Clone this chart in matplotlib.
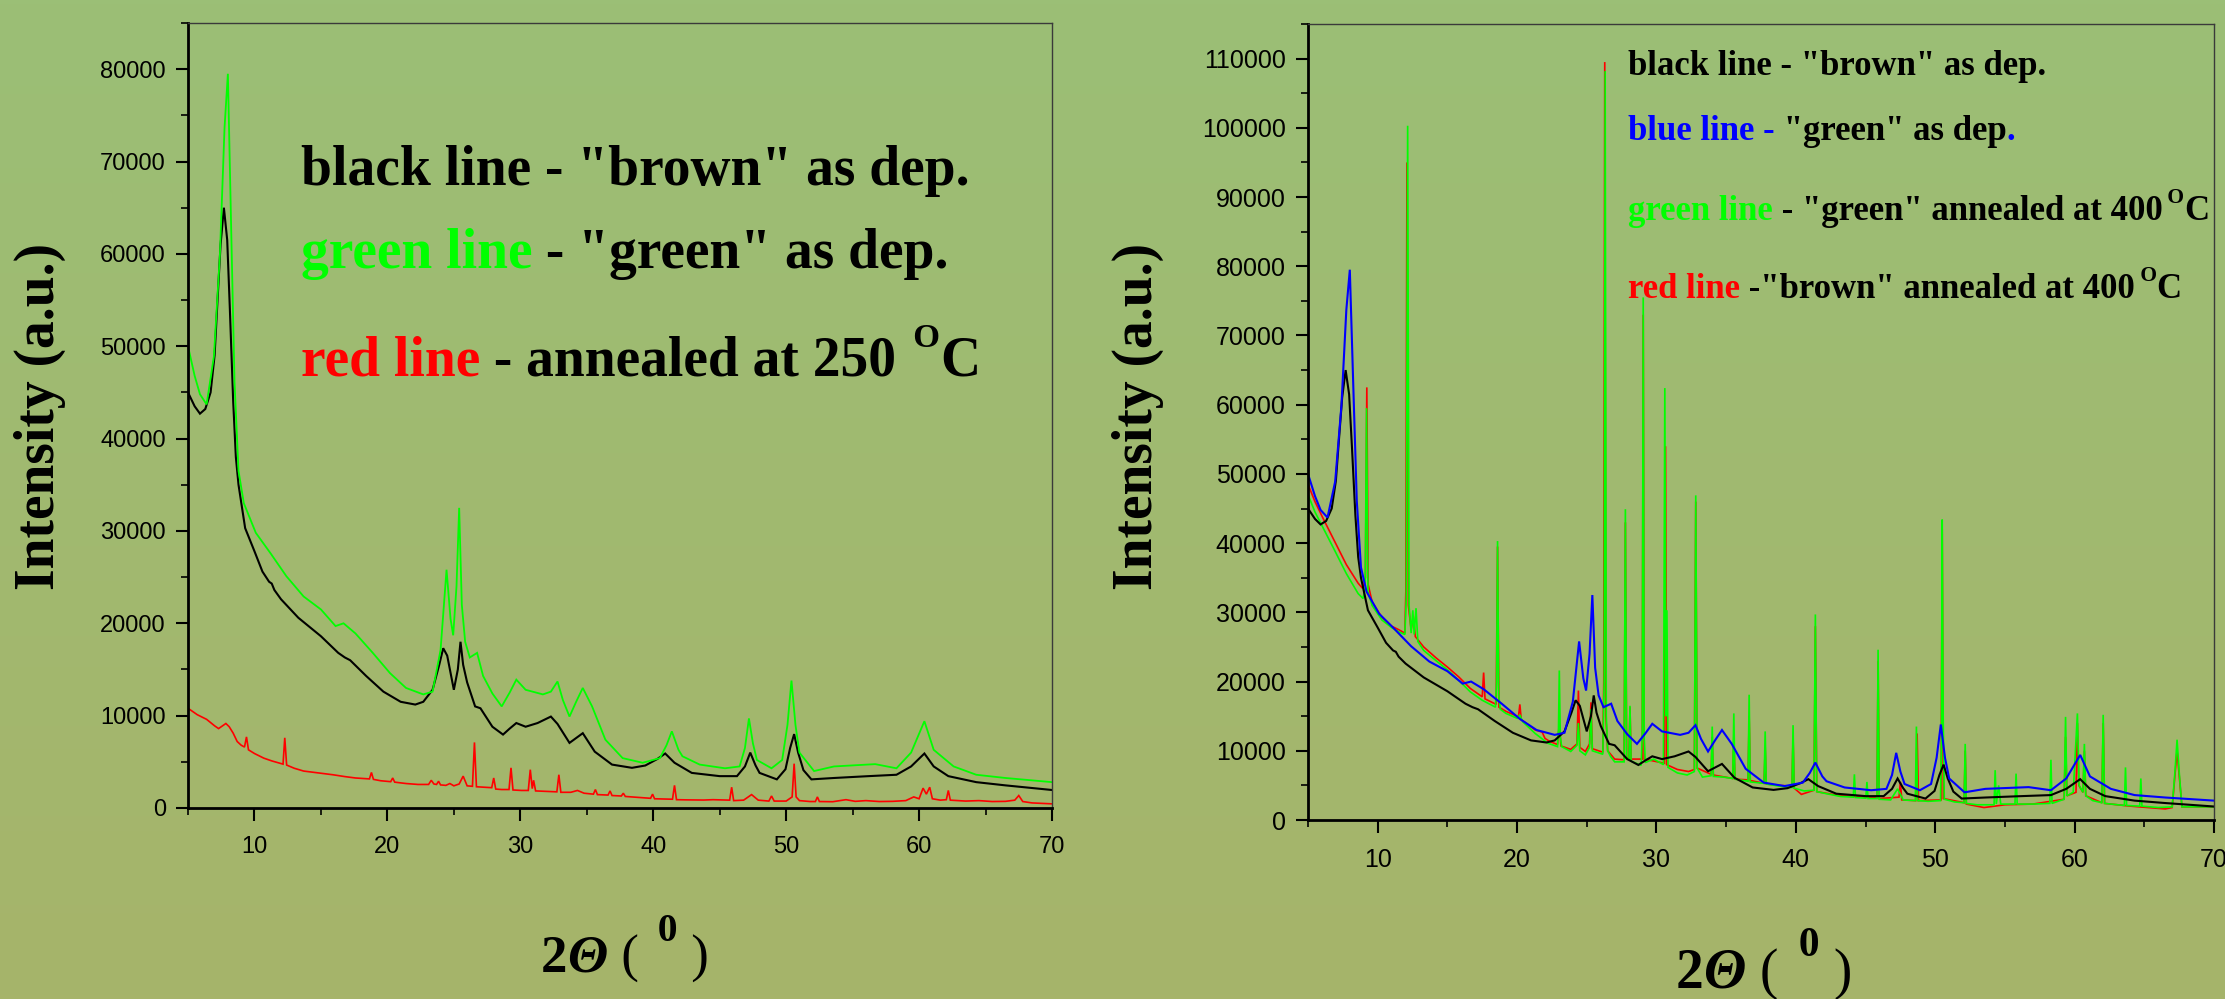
"""XRD patterns of the "brown" and "green" films, two panels side by side."""

import matplotlib

matplotlib.use("Agg")  # headless
import matplotlib.pyplot as plt  # noqa: E402
import numpy as np  # noqa: E402
from matplotlib.ticker import MultipleLocator, StrMethodFormatter  # noqa: E402

# ---- data: (2theta, intensity) pairs ---------------------------------------
brown_as_dep = [
    (5.0, 45000), (5.5, 43500), (5.9, 42700), (6.3, 43200), (6.7, 45000),
    (7.0, 49000), (7.2, 54400), (7.45, 61000), (7.7, 65000), (7.95, 61500),
    (8.15, 54000), (8.4, 44000), (8.6, 38000), (8.8, 35000), (9.3, 30300),
    (10.0, 27800), (10.6, 25600), (11.1, 24500), (11.3, 24300), (11.5, 23600),
    (12.0, 22600), (13.3, 20600), (15.0, 18600), (16.3, 16800), (16.8, 16300),
    (17.2, 16000), (18.4, 14300), (19.7, 12600), (21.0, 11500), (22.1, 11200),
    (22.7, 11500), (23.4, 12800), (23.9, 15500), (24.2, 17300), (24.5, 16500),
    (25.0, 12800), (25.3, 15000), (25.5, 18000), (25.7, 15500), (26.0, 13600),
    (26.6, 11000), (27.0, 10800), (27.9, 8800), (28.7, 7950), (29.2, 8600),
    (29.7, 9200), (30.4, 8800), (31.3, 9200), (32.3, 9900), (32.8, 9100),
    (33.7, 7050), (34.7, 8100), (35.6, 6100), (36.9, 4700), (38.4, 4350),
    (39.4, 4600), (40.3, 5300), (40.9, 5900), (41.6, 4900), (42.9, 3800),
    (45.0, 3450), (46.3, 3450), (46.9, 4500), (47.3, 6000), (47.7, 4600),
    (48.0, 3800), (49.3, 3100), (49.95, 4200), (50.3, 6500), (50.6, 8000),
    (50.9, 6000), (51.3, 4100), (51.9, 3100), (53.6, 3250), (56.2, 3450),
    (58.3, 3600), (59.4, 4500), (60.4, 5900), (61.1, 4500), (62.2, 3450),
    (64.3, 2800), (66.5, 2450), (70.0, 1950),
]

green_as_dep = [
    (5.0, 50000), (5.5, 46800), (5.9, 44800), (6.4, 43700), (6.95, 48900),
    (7.4, 59900), (7.75, 73700), (8.0, 79500), (8.27, 61300), (8.5, 46100),
    (8.8, 36500), (9.2, 33000), (10.1, 29800), (11.2, 27600), (12.4, 25100),
    (13.7, 22900), (15.0, 21500), (16.1, 19700), (16.7, 20000), (17.6, 18900),
    (18.9, 16800), (20.2, 14600), (21.4, 13000), (22.7, 12300), (23.4, 12600),
    (24.0, 17100), (24.45, 25800), (24.75, 20500), (24.95, 18700), (25.2, 24000),
    (25.4, 32500), (25.6, 22000), (25.85, 18000), (26.2, 16300), (26.75, 16800),
    (27.2, 14300), (27.9, 12400), (28.6, 11000), (29.2, 12500), (29.7, 13900),
    (30.4, 12800), (31.7, 12300), (32.3, 12600), (32.8, 13700), (33.2, 11700),
    (33.7, 9900), (34.2, 11500), (34.7, 13000), (35.4, 11000), (36.4, 7400),
    (37.7, 5400), (39.2, 4900), (40.5, 5400), (41.0, 6800), (41.4, 8300),
    (41.9, 6300), (42.2, 5600), (43.5, 4700), (45.4, 4300), (46.5, 4500),
    (46.9, 6500), (47.2, 9700), (47.5, 7000), (47.8, 5200), (48.9, 4300),
    (49.7, 5200), (50.1, 9000), (50.4, 13800), (50.7, 9000), (51.0, 6000),
    (52.1, 4000), (53.6, 4500), (56.7, 4750), (58.3, 4300), (59.4, 6000),
    (60.4, 9400), (61.1, 6300), (62.6, 4500), (64.3, 3600), (66.5, 3250),
    (70.0, 2800),
]

annealed_250 = [
    (5.0, 10800), (5.7, 10100), (6.4, 9600), (7.0, 8900), (7.3, 8600),
    (7.6, 8900), (7.85, 9150), (8.1, 8800), (8.4, 8100), (8.7, 7200),
    (9.0, 6800), (9.25, 6600), (9.4, 7700), (9.55, 6300), (10.0, 5900),
    (10.7, 5400), (11.3, 5100), (11.8, 4900), (12.15, 4750), (12.28, 7600),
    (12.42, 4650), (13.0, 4300), (13.7, 4000), (14.8, 3800), (15.9, 3600),
    (16.8, 3400), (17.6, 3250), (18.65, 3150), (18.8, 3850), (18.95, 3100),
    (19.5, 2950), (20.25, 2850), (20.4, 3250), (20.55, 2800), (21.4, 2650),
    (22.3, 2550), (23.1, 2550), (23.3, 3000), (23.5, 2600), (23.7, 2550),
    (23.85, 2900), (24.0, 2500), (24.4, 2450), (24.7, 2650), (25.0, 2400),
    (25.4, 2600), (25.7, 3450), (26.0, 2400), (26.4, 2350), (26.55, 7100),
    (26.7, 2300), (27.3, 2250), (27.85, 2200), (28.0, 3250), (28.15, 2050),
    (28.6, 2000), (29.15, 2000), (29.3, 4350), (29.45, 1950), (30.1, 1900),
    (30.6, 1900), (30.75, 4150), (30.9, 2100), (31.0, 3000), (31.15, 1850),
    (32.0, 1800), (32.75, 1750), (32.9, 3600), (33.05, 1700), (33.8, 1700),
    (34.3, 1900), (34.8, 1600), (35.5, 1500), (35.65, 2000), (35.8, 1450),
    (36.6, 1400), (36.75, 1850), (36.9, 1350), (37.6, 1300), (37.75, 1600),
    (37.9, 1250), (38.8, 1150), (39.8, 1050), (39.95, 1500), (40.1, 1000),
    (40.8, 980), (41.45, 950), (41.6, 2450), (41.75, 900), (42.5, 880),
    (43.8, 860), (44.5, 900), (45.75, 850), (45.9, 2250), (46.05, 800),
    (46.8, 850), (47.4, 1450), (47.9, 850), (48.7, 750), (48.9, 1300),
    (49.1, 750), (50.0, 750), (50.45, 1200), (50.6, 4800), (50.75, 1200),
    (51.0, 800), (51.8, 700), (52.2, 700), (52.35, 1200), (52.5, 700),
    (53.5, 680), (54.5, 900), (55.2, 720), (56.0, 800), (57.0, 700),
    (58.0, 720), (59.0, 800), (59.6, 1200), (60.0, 1000), (60.3, 2150),
    (60.55, 1500), (60.8, 2250), (61.0, 1000), (61.6, 850), (62.05, 900),
    (62.2, 1900), (62.35, 850), (63.5, 750), (64.5, 800), (65.5, 700),
    (66.5, 720), (67.2, 850), (67.5, 1350), (67.8, 700), (68.5, 550),
    (70.0, 450),
]

green_annealed_400 = [
    (5.0, 47000), (5.5, 44500), (6.06, 42300), (6.9, 39000), (7.75, 35600),
    (8.6, 32700), (8.95, 32000), (9.1, 33500), (9.2, 59500), (9.3, 33000),
    (9.6, 31000), (10.3, 28900), (11.0, 27800), (11.5, 27200), (11.95, 26800),
    (12.05, 32000), (12.15, 100300), (12.25, 31000), (12.4, 27000), (12.52, 30300),
    (12.62, 26800), (12.75, 30600), (12.88, 25800), (13.3, 24500), (14.2, 23000),
    (15.0, 21700), (15.8, 20200), (16.65, 18500), (17.5, 17300), (18.45, 16300),
    (18.53, 20000), (18.6, 40300), (18.68, 18000), (18.8, 16000), (19.2, 15400),
    (20.0, 14700), (20.2, 15200), (20.4, 14200), (21.3, 12500), (22.2, 11100),
    (22.9, 10600), (22.97, 13000), (23.03, 21600), (23.1, 12000), (23.2, 10600),
    (23.85, 9900), (24.3, 10800), (24.4, 14000), (24.5, 10000), (24.9, 9400),
    (25.2, 10500), (25.3, 16000), (25.4, 10000), (26.15, 9500), (26.25, 20000),
    (26.32, 108200), (26.4, 15000), (26.5, 10000), (26.7, 9200), (27.0, 8400),
    (27.68, 8400), (27.77, 44900), (27.86, 8800), (28.03, 8800), (28.1, 16500),
    (28.18, 8500), (28.9, 7900), (28.98, 12000), (29.05, 75500), (29.12, 12000),
    (29.2, 8300), (29.8, 8800), (30.5, 8000), (30.6, 62400), (30.68, 15000),
    (30.75, 30300), (30.83, 7600), (31.5, 6800), (32.2, 6500), (32.72, 7000),
    (32.82, 46900), (32.92, 7500), (33.3, 6200), (33.92, 6400), (34.0, 13500),
    (34.08, 6300), (34.8, 6200), (35.47, 6000), (35.55, 15400), (35.63, 5900),
    (36.57, 5600), (36.65, 18100), (36.73, 5500), (37.72, 5300), (37.8, 12800),
    (37.88, 5200), (38.8, 4900), (39.72, 4700), (39.8, 13700), (39.88, 4600),
    (40.6, 4200), (41.3, 4300), (41.4, 29700), (41.5, 4100), (42.2, 3800),
    (43.2, 3400), (44.12, 3300), (44.2, 6600), (44.28, 3250), (45.02, 3150),
    (45.1, 5500), (45.18, 3100), (45.82, 3100), (45.9, 24600), (45.98, 3000),
    (46.8, 2900), (47.3, 4500), (47.7, 2900), (48.57, 2800), (48.65, 13500),
    (48.73, 2800), (49.5, 2700), (50.38, 2800), (50.45, 12000), (50.5, 43400),
    (50.57, 15000), (50.65, 3000), (51.4, 2600), (52.07, 2500), (52.15, 11000),
    (52.23, 2400), (53.0, 2200), (54.22, 2200), (54.3, 7200), (54.38, 2300),
    (54.55, 5000), (54.7, 2300), (55.72, 2300), (55.8, 6700), (55.88, 2300),
    (57.0, 2300), (58.22, 2400), (58.3, 8700), (58.38, 2400), (59.25, 3000),
    (59.35, 14900), (59.45, 3500), (59.9, 4000), (60.2, 15400), (60.32, 5000),
    (60.6, 4000), (60.7, 11000), (60.8, 3500), (61.3, 2800), (61.95, 2500),
    (62.05, 15200), (62.15, 2400), (63.57, 2100), (63.65, 7600), (63.73, 2100),
    (64.67, 2000), (64.75, 6000), (64.83, 2000), (66.0, 1800), (67.0, 1900),
    (67.2, 7000), (67.35, 11600), (67.5, 7000), (67.7, 1900), (70.0, 1900),
]

brown_annealed_400 = [
    (5.0, 48500), (5.5, 46000), (6.1, 43500), (6.9, 40300), (7.75, 36900),
    (8.6, 34200), (8.9, 33500), (9.12, 35000), (9.22, 62500), (9.32, 34000),
    (9.6, 31500), (10.3, 29300), (11.0, 28000), (11.5, 27500), (11.95, 27000),
    (12.02, 33000), (12.1, 95000), (12.2, 31000), (12.4, 27500), (12.55, 29500),
    (12.7, 26500), (13.3, 25000), (14.2, 23400), (15.0, 22100), (15.8, 20700),
    (16.65, 19000), (17.5, 17800), (17.6, 21300), (17.7, 17500), (18.5, 16700),
    (18.6, 39500), (18.7, 16300), (19.2, 15700), (20.1, 14900), (20.2, 16700),
    (20.3, 14500), (21.3, 13000), (21.8, 12700), (22.0, 11800), (22.3, 11400),
    (22.9, 10900), (23.03, 14000), (23.15, 10700), (23.85, 10200), (24.3, 11000),
    (24.4, 18700), (24.5, 10500), (24.9, 9900), (25.2, 11000), (25.3, 17000),
    (25.4, 10300), (26.15, 9800), (26.22, 20000), (26.29, 109500), (26.37, 15000),
    (26.5, 10000), (27.0, 8800), (27.68, 8700), (27.77, 43000), (27.86, 9000),
    (28.03, 8800), (28.1, 16300), (28.18, 8800), (28.98, 8800), (29.05, 73000),
    (29.12, 8800), (30.57, 8200), (30.65, 54000), (30.73, 8000), (31.5, 7300),
    (32.3, 7000), (32.72, 7300), (32.82, 46000), (32.92, 7500), (33.92, 6600),
    (34.0, 12000), (34.08, 6500), (35.47, 6000), (35.55, 12000), (35.63, 5900),
    (36.57, 5800), (36.65, 15000), (36.73, 5700), (37.72, 5300), (37.8, 10500),
    (37.88, 5200), (38.8, 5000), (39.72, 4900), (39.8, 12000), (39.88, 4600),
    (40.4, 3700), (41.3, 4300), (41.4, 28000), (41.5, 4100), (43.2, 3500),
    (45.82, 3200), (45.9, 23000), (45.98, 3100), (47.4, 3300), (47.5, 5500),
    (47.6, 2900), (48.6, 2800), (48.7, 12500), (48.8, 2800), (50.42, 2900),
    (50.5, 42000), (50.58, 3100), (52.07, 2500), (52.15, 10000), (52.23, 2300),
    (53.5, 1800), (55.0, 2200), (57.0, 2300), (59.25, 3000), (59.35, 12000),
    (59.45, 3500), (60.1, 4000), (60.2, 14000), (60.3, 5000), (60.6, 4000),
    (60.7, 10000), (60.8, 3500), (61.95, 2500), (62.05, 14000), (62.15, 2400),
    (64.0, 2000), (66.5, 1600), (67.0, 1800), (67.35, 10000), (67.7, 1900),
    (70.0, 1900),
]

left_yticks = list(range(0, 80001, 10000))
right_yticks = list(range(0, 110001, 10000))

# ---- layout (pixels of the 2225x999 canvas) ---------------------------------
W, H = 2225, 999
SERIF = ["Liberation Serif", "DejaVu Serif"]
BLACK, GREEN, RED, BLUE = "#000000", "#00ff00", "#ff0000", "#0000ff"

plt.rcParams["font.family"] = ["Liberation Sans", "DejaVu Sans"]


def fx(px):
    return px / W


def fy(py):
    return 1 - py / H


def box(left, top, right, bottom):
    return [fx(left), fy(bottom), (right - left) / W, (bottom - top) / H]


def style_axes(ax, ymax, yticks, labelsize):
    ax.set_facecolor("none")
    ax.set_xlim(5, 70)
    ax.set_ylim(0, ymax)
    ax.xaxis.set_major_locator(MultipleLocator(10))
    ax.xaxis.set_minor_locator(MultipleLocator(5))
    ax.set_yticks(yticks)
    ax.yaxis.set_minor_locator(MultipleLocator(5000))
    ax.yaxis.set_major_formatter(StrMethodFormatter("{x:.0f}"))
    for side in ("left", "bottom"):
        ax.spines[side].set_linewidth(2.0)
        ax.spines[side].set_color("black")
    for side in ("top", "right"):
        ax.spines[side].set_linewidth(1.0)
        ax.spines[side].set_color("#3a3a3a")
    ax.tick_params(which="major", direction="out", length=9, width=1.5,
                   labelsize=labelsize, top=False, right=False)
    ax.tick_params(which="minor", direction="out", length=5, width=1.2,
                   top=False, right=False)
    ax.tick_params(axis="y", which="major", pad=7)
    ax.tick_params(axis="x", which="major", pad=11)


def plot_series(ax, pairs, color, lw):
    xs, ys = zip(*pairs)
    ax.plot(xs, ys, color=color, lw=lw, solid_joinstyle="miter")


fig = plt.figure(figsize=(W / 100, H / 100), dpi=100)

# vertical green gradient behind everything
bg = fig.add_axes([0, 0, 1, 1], zorder=-10)
top_c = np.array([155, 191, 118]) / 255
bot_c = np.array([166, 180, 106]) / 255
ramp = np.linspace(0, 1, 256)[:, None, None]
bg.imshow(top_c * (1 - ramp) + bot_c * ramp, aspect="auto", extent=[0, 1, 0, 1])
bg.axis("off")

ax1 = fig.add_axes(box(188, 23, 1052, 808))
style_axes(ax1, 85000, left_yticks, 17)
plot_series(ax1, annealed_250, RED, 1.2)
plot_series(ax1, brown_as_dep, BLACK, 1.5)
plot_series(ax1, green_as_dep, GREEN, 1.3)

ax2 = fig.add_axes(box(1308, 24, 2214, 820))
style_axes(ax2, 115000, right_yticks, 18)
plot_series(ax2, brown_annealed_400, RED, 1.2)
plot_series(ax2, green_annealed_400, GREEN, 1.2)
plot_series(ax2, brown_as_dep, BLACK, 1.5)
plot_series(ax2, green_as_dep, BLUE, 1.5)

renderer = fig.canvas.get_renderer()


def rich(x_px, y_px, parts, size):
    """Write coloured runs one after another on a common baseline.

    parts: (text, color, weight, style, scale, rise) with rise in em units.
    """
    x = x_px
    for text, color, weight, style, scale, rise in parts:
        lift = rise * size * 100 / 72
        t = fig.text(fx(x), fy(y_px - lift), text, color=color,
                     fontsize=size * scale, fontweight=weight, fontstyle=style,
                     family=SERIF, ha="left", va="baseline")
        x += t.get_window_extent(renderer).width


def run(text, color=BLACK):
    return (text, color, "bold", "normal", 1.0, 0.0)


def sup(text, color=BLACK, scale=0.62, rise=0.5):
    return (text, color, "bold", "normal", scale, rise)


# left panel annotations
LS = 40
rich(301, 185, [run('black line - "brown" as dep.')], LS)
rich(301, 268, [run("green line", GREEN), run(' - "green" as dep.')], LS)
rich(301, 375, [run("red line", RED), run(" - annealed at 250"),
                sup("  O"), run("C")], LS)

# right panel annotations
RS = 25
rich(1628, 75, [run('black line - "brown" as dep.')], RS)
rich(1628, 140, [run("blue line -", BLUE), run(' "green" as dep'),
                 run(".", BLUE)], RS)
rich(1628, 220, [run("green line", GREEN),
                 run(' - "green" annealed at 400'), sup(" O"), run("C")], RS)
rich(1628, 298, [run("red line", RED),
                 run(' -"brown" annealed at 400'), sup(" O"), run("C")], RS)


def two_theta(x_px, y_px, size):
    rich(x_px, y_px, [
        ("2", BLACK, "bold", "normal", 1.0, 0.0),
        ("\u0398", BLACK, "bold", "italic", 1.0, 0.0),
        (" (", BLACK, "normal", "normal", 1.0, 0.0),
        ("  0", BLACK, "bold", "normal", 0.75, 0.58),
        (" )", BLACK, "normal", "normal", 1.0, 0.0),
    ], size)


two_theta(541, 972, 38)
two_theta(1676, 988, 40)

for xc in (40, 1138):
    fig.text(fx(xc), fy(416), "Intensity (a.u.)", rotation=90, ha="center",
             va="center", fontsize=40, fontweight="bold", family=SERIF)

fig.savefig("out.png", dpi=100)
plt.close(fig)
